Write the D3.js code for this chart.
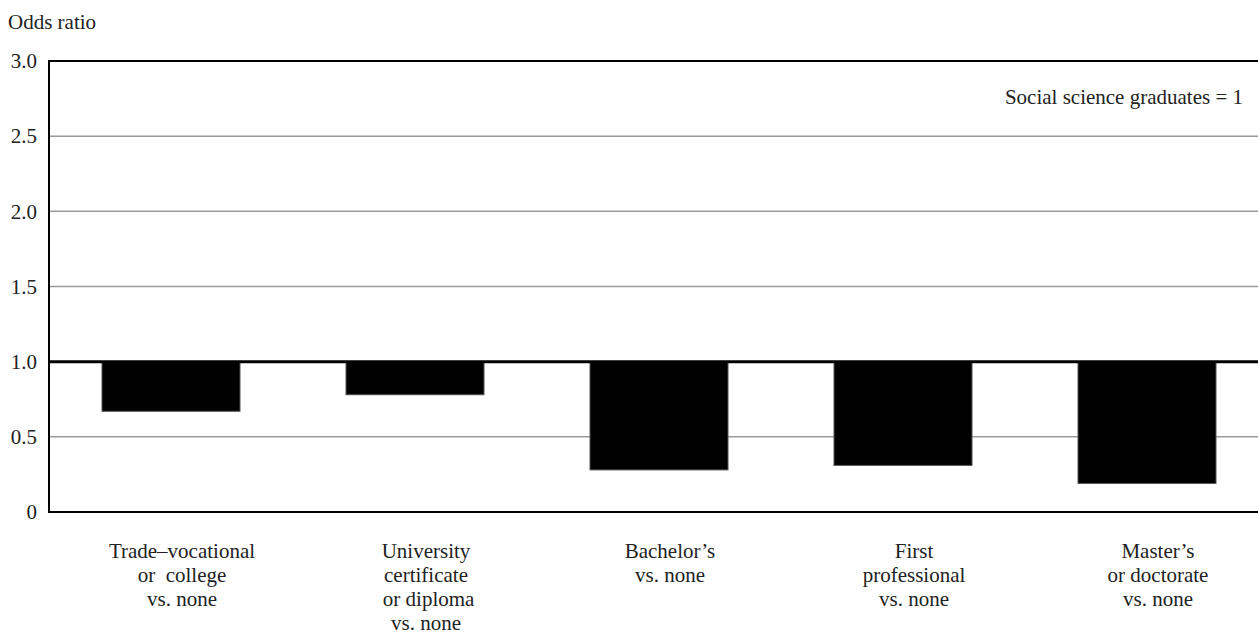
<!DOCTYPE html>
<html>
<head>
<meta charset="utf-8">
<script src="https://cdn.jsdelivr.net/npm/d3@7"></script>
<style>
  html, body { margin: 0; padding: 0; background: #fff; }
  svg { display: block; }
</style>
</head>
<body>
<svg id="chart" width="1258" height="635"></svg>
<script>
const categories = [
  ["Trade\u2013vocational", "or  college", "vs. none"],
  ["University", "certificate", " or diploma", "vs. none"],
  ["Bachelor\u2019s", "vs. none"],
  ["First", "professional", "vs. none"],
  ["Master\u2019s", "or doctorate", "vs. none"]
];
const oddsRatios = [0.67, 0.78, 0.28, 0.31, 0.19];
const yTicks = [0, 0.5, 1.0, 1.5, 2.0, 2.5, 3.0];
const yTickLabels = ["0", "0.5", "1.0", "1.5", "2.0", "2.5", "3.0"];
const referenceValue = 1;
const yTitle = "Odds ratio";
const note = "Social science graduates = 1";

const FONT = '"Liberation Serif", "Times New Roman", Times, serif';
const FS = 21;
const svg = d3.select("#chart");
const plotLeft = 49, plotRight = 1258, plotTop = 61, plotBottom = 512;

const y = d3.scaleLinear().domain([0, 3]).range([plotBottom, plotTop]);
const x = d3.scaleBand()
  .domain(d3.range(categories.length))
  .range([plotLeft, plotLeft + 244 * 5])
  .paddingInner(0.4344)
  .paddingOuter(0.2172);

// grid lines
svg.append("g").selectAll("line")
  .data(yTicks.filter(d => d !== 0 && d !== 3 && d !== referenceValue))
  .join("line")
  .attr("x1", plotLeft).attr("x2", plotRight)
  .attr("y1", d => y(d)).attr("y2", d => y(d))
  .attr("stroke", "#9a9a9a").attr("stroke-width", 1.5);

// top border
svg.append("line")
  .attr("x1", plotLeft - 1).attr("x2", plotRight)
  .attr("y1", y(3)).attr("y2", y(3))
  .attr("stroke", "#000").attr("stroke-width", 2);

// bars (from reference line at 1 downwards)
svg.append("g").selectAll("rect")
  .data(oddsRatios)
  .join("rect")
  .attr("x", (d, i) => x(i))
  .attr("width", x.bandwidth())
  .attr("y", d => y(Math.max(d, referenceValue)))
  .attr("height", d => Math.abs(y(d) - y(referenceValue)))
  .attr("fill", "#000")
  .attr("stroke", "#555").attr("stroke-width", 1);

// reference line
svg.append("line")
  .attr("x1", plotLeft - 1).attr("x2", plotRight)
  .attr("y1", y(referenceValue)).attr("y2", y(referenceValue))
  .attr("stroke", "#000").attr("stroke-width", 3);

// axes
const yAxis = d3.axisLeft(y)
  .tickValues(yTicks)
  .tickSize(0)
  .tickPadding(12)
  .tickFormat((d, i) => yTickLabels[i]);
const gy = svg.append("g").attr("transform", `translate(${plotLeft},0)`).call(yAxis)
  .attr("font-family", FONT).attr("font-size", FS);
gy.select(".domain").remove();
gy.selectAll("text").style("font-family", FONT).style("font-size", FS + "px").attr("fill", "#222");

svg.append("line")
  .attr("x1", plotLeft).attr("x2", plotLeft)
  .attr("y1", y(3) - 1).attr("y2", y(0) + 1)
  .attr("stroke", "#000").attr("stroke-width", 2);
svg.append("line")
  .attr("x1", plotLeft - 1).attr("x2", plotRight)
  .attr("y1", y(0)).attr("y2", y(0))
  .attr("stroke", "#000").attr("stroke-width", 2);

// category labels
const labelShift = 11;
const labels = svg.append("g").selectAll("text")
  .data(categories)
  .join("text")
  .attr("text-anchor", "middle")
  .style("font-family", FONT).style("font-size", FS + "px").attr("fill", "#222")
  .attr("x", (d, i) => x(i) + x.bandwidth() / 2 + labelShift)
  .attr("y", 557.5);
labels.selectAll("tspan")
  .data((d, i) => d.map(t => ({t, i})))
  .join("tspan")
  .attr("x", d => x(d.i) + x.bandwidth() / 2 + labelShift)
  .attr("dy", (d, j) => j === 0 ? 0 : 24)
  .style("white-space", "pre")
  .text(d => d.t);

// y title
svg.append("text").attr("x", 8).attr("y", 29)
  .style("font-family", FONT).style("font-size", FS + "px").attr("fill", "#222").text(yTitle);

// note
svg.append("text").attr("x", 1243).attr("y", 104)
  .attr("text-anchor", "end")
  .style("font-family", FONT).style("font-size", FS + "px").attr("fill", "#222").text(note);
</script>
</body>
</html>
